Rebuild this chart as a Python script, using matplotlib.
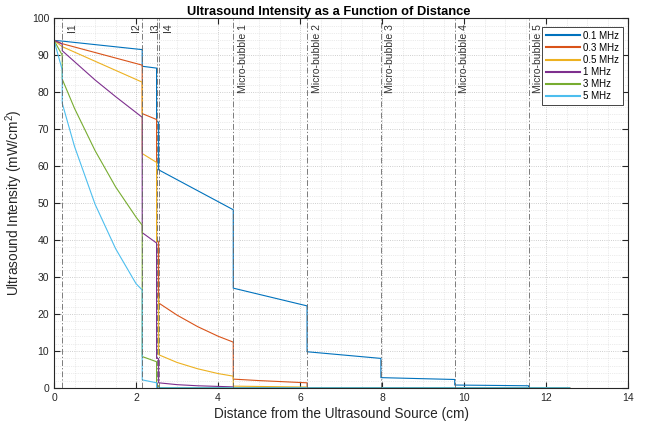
import matplotlib
matplotlib.use('Agg')
import matplotlib.pyplot as plt
from matplotlib.ticker import MultipleLocator

plt.rcParams['font.family'] = ['Liberation Sans', 'DejaVu Sans']
plt.rcParams['mathtext.fontset'] = 'custom'
plt.rcParams['mathtext.rm'] = 'Liberation Sans'
plt.rcParams['mathtext.default'] = 'rm'

# values
labels = ['0.1 MHz', '0.3 MHz', '0.5 MHz', '1 MHz', '3 MHz', '5 MHz']
colors = ['#0072BD', '#D95319', '#EDB120', '#7E2F8E', '#77AC30', '#4DBEEE']

x_01 = [0, 0.2, 2.15, 2.15, 2.5, 2.5, 2.55, 2.55, 4.37, 4.37, 6.17, 6.17, 7.97, 7.97, 9.77, 9.77, 11.57, 11.57, 12.57]
y_01 = [94, 93.8, 91.5, 87, 86.5, 72, 71.9, 59, 48.2, 27, 22.2, 9.8, 8.0, 2.8, 2.3, 0.8, 0.6, 0.05, 0.05]

x_03 = [0, 0.2, 2.15, 2.15, 2.5, 2.5, 2.55, 2.55, 3.0, 3.5, 4.0, 4.37, 4.37, 5.0, 6.17, 6.17, 12.57]
y_03 = [94, 93.1, 87.3, 74.2, 72.6, 40, 39.5, 23, 19.7, 16.6, 14.0, 12.4, 2.4, 2.0, 1.4, 0.05, 0.05]

x_05 = [0, 0.2, 2.15, 2.15, 2.5, 2.5, 2.55, 2.55, 3.0, 3.5, 4.0, 4.37, 4.37, 6.17, 6.17, 12.57]
y_05 = [94, 92.3, 82.7, 63.4, 61.0, 25, 24.5, 9.0, 6.9, 5.2, 3.9, 3.2, 0.5, 0.25, 0.05, 0.05]

x_1 = [0, 0.2, 0.2, 1.0, 1.5, 2.15, 2.15, 2.5, 2.5, 2.55, 2.55, 3.0, 3.5, 4.37, 4.37, 12.57]
y_1 = [94, 93.0, 91.2, 83.3, 78.8, 73.2, 42.0, 39.2, 8, 7.9, 1.4, 0.9, 0.6, 0.3, 0.05, 0.05]

x_3 = [0, 0.2, 0.2, 0.5, 1.0, 1.5, 2.0, 2.15, 2.15, 2.5, 2.5, 2.55, 2.55, 12.57]
y_3 = [94, 90, 83.5, 75.6, 64.2, 54.4, 46.2, 44.0, 8.5, 7.1, 0.6, 0.6, 0.05, 0.05]

x_5 = [0, 0.2, 0.2, 0.5, 1.0, 1.5, 2.0, 2.15, 2.15, 2.5, 2.5, 2.55, 2.55, 12.57]
y_5 = [94, 86, 77, 65.3, 49.7, 37.7, 28.2, 26.5, 2.2, 1.4, 0.1, 0.1, 0.05, 0.05]

iface_x = [0.2, 2.15, 2.5, 2.55]
iface_names = ['I1', 'I2', 'I3', 'I4']
bubble_x = [4.37, 6.17, 7.97, 9.77, 11.57]
bubble_names = ['Micro-bubble 1', 'Micro-bubble 2', 'Micro-bubble 3', 'Micro-bubble 4', 'Micro-bubble 5']

xs = [x_01, x_03, x_05, x_1, x_3, x_5]
ys = [y_01, y_03, y_05, y_1, y_3, y_5]

fig = plt.figure(figsize=(6.51, 4.30), dpi=100)
ax = fig.add_axes([0.083, 0.0977, 0.882, 0.860])

for x, y, c, lab in zip(xs, ys, colors, labels):
    ax.plot(x, y, color=c, lw=0.8, label=lab)

dash = (0, (7, 2.5, 1.5, 2.5))
for xv in iface_x + bubble_x:
    ax.axvline(xv, color='0.4', lw=0.6, linestyle=dash, zorder=3)

# label sides as in the reference
off = {'I1': 0.24, 'I2': -0.16, 'I3': -0.05, 'I4': 0.24}
for xv, name in zip(iface_x, iface_names):
    ax.text(xv + off[name], 98.5, name, rotation=90, ha='center', va='top',
            fontsize=7.5, color='0.2')
for xv, name in zip(bubble_x, bubble_names):
    ax.text(xv + 0.23, 98.5, name, rotation=90, ha='center', va='top',
            fontsize=7.5, color='0.2')

ax.set_xlim(0, 14)
ax.set_ylim(0, 100)
ax.xaxis.set_major_locator(MultipleLocator(2))
ax.xaxis.set_minor_locator(MultipleLocator(0.5))
ax.yaxis.set_major_locator(MultipleLocator(10))
ax.yaxis.set_minor_locator(MultipleLocator(2))
ax.grid(True, which='major', linestyle=':', color='0.75', lw=0.6)
ax.grid(True, which='minor', linestyle=':', color='0.85', lw=0.5)
ax.tick_params(which='both', direction='in', top=True, right=True, colors='0.15',
               labelsize=7.5, length=4)
ax.tick_params(which='minor', length=0)
for s in ax.spines.values():
    s.set_color('0.15')
    s.set_linewidth(0.8)

ax.set_title('Ultrasound Intensity as a Function of Distance', fontsize=9.3,
             fontweight='bold', pad=2, x=0.478)
ax.set_xlabel('Distance from the Ultrasound Source (cm)', fontsize=9.8, color='0.15', labelpad=3)
ax.set_ylabel('Ultrasound Intensity (mW/cm$^2$)', fontsize=9.8, color='0.15', labelpad=5)

leg = ax.legend(loc='upper right', fontsize=7, handlelength=3.5, labelspacing=0.22,
                borderpad=0.4, handletextpad=0.4, fancybox=False, framealpha=1,
                edgecolor='0.15', bbox_to_anchor=(1.0, 0.99))
leg.get_frame().set_linewidth(0.6)
for h in leg.get_lines():
    h.set_linewidth(1.5)

fig.savefig('out.png', dpi=100)
